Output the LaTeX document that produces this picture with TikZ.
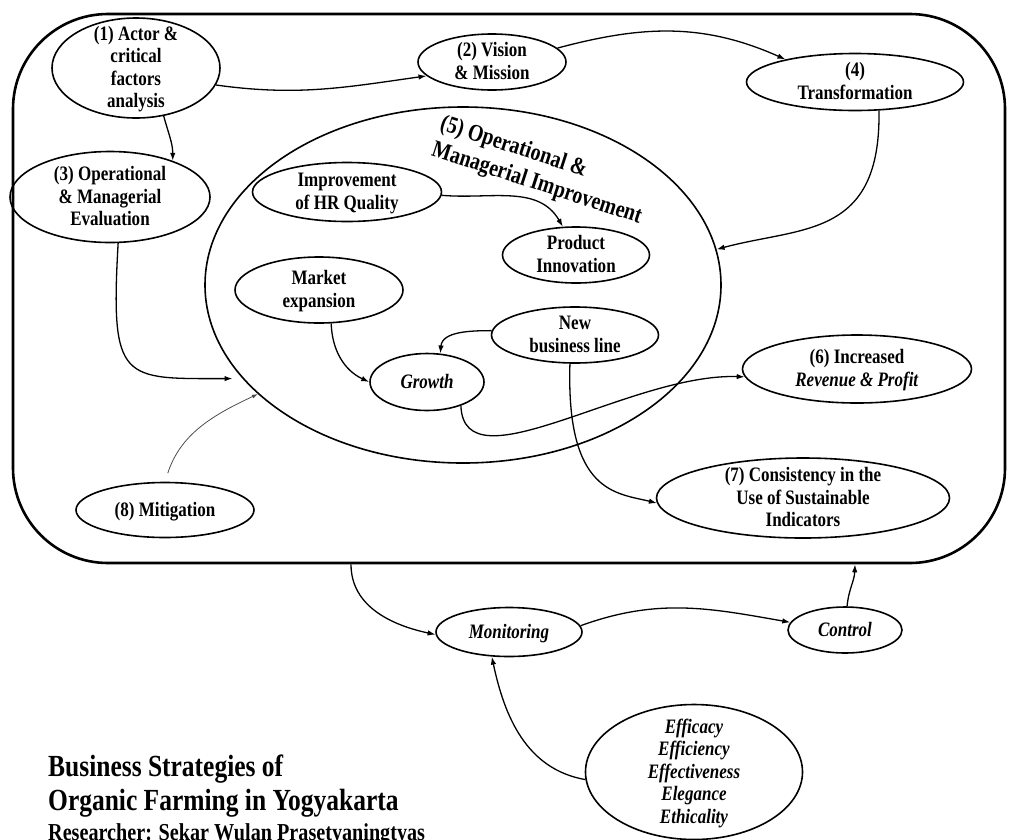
\documentclass[tikz,border=0pt]{standalone}
\usepackage{fontspec}
\setmainfont{Liberation Serif}[FakeStretch=0.83]
\usetikzlibrary{shapes.geometric,arrows.meta}
\newcommand{\ovaltext}[1]{\smash{\raisebox{\dimexpr(\depth-\height)/2-1.5pt\relax}{\begin{tabular}{@{}c@{}}#1\end{tabular}}}}

\begin{document}
\begin{tikzpicture}[x=1pt,y=1pt,
  >={Latex[length=8pt,width=5.5pt]},
  oval/.style={ellipse,draw,line width=1.6pt,inner sep=0pt,font=\fontsize{20.5}{22.5}\selectfont\bfseries},
  link/.style={->,line width=1.3pt}]
  \useasboundingbox (0,0) rectangle (1009,-839);
  \node[draw,line width=2.6pt,rounded corners=95pt,minimum width=992,minimum height=549] (frame) at (509,-288.5) {};
  \node[ellipse,draw,line width=1.6pt,minimum width=516,minimum height=356] (imp) at (463,-285) {};
  \node[rotate=-18,align=left,font=\fontsize{24}{27.5}\selectfont\bfseries] (imptitle) at (541,-171) {(5) Operational \&\\Managerial Improvement};
  \node[oval,minimum width=168,minimum height=100] (act) at (136,-68) {\ovaltext{(1) Actor \&\\critical\\factors\\analysis}};
  \node[oval,minimum width=148,minimum height=56] (vision) at (492,-62) {\ovaltext{(2) Vision\\\& Mission}};
  \node[oval,minimum width=217,minimum height=57] (trans) at (855,-82) {\ovaltext{(4)\\Transformation}};
  \node[oval,minimum width=200,minimum height=91] (eval) at (110,-197) {\ovaltext{(3) Operational\\\& Managerial\\Evaluation}};
  \node[oval,minimum width=189,minimum height=59] (hrq) at (347,-192) {\ovaltext{Improvement\\of HR Quality}};
  \node[oval,minimum width=147,minimum height=56] (prod) at (576,-255) {\ovaltext{Product\\Innovation}};
  \node[oval,minimum width=168,minimum height=66] (market) at (319,-290) {\ovaltext{Market\\expansion}};
  \node[oval,minimum width=167,minimum height=56] (newbiz) at (575,-335) {\ovaltext{New\\business line}};
  \node[oval,minimum width=114,minimum height=57] (growth) at (427,-382) {\ovaltext{\textit{Growth}}};
  \node[oval,minimum width=229,minimum height=68] (revenue) at (857,-369) {\ovaltext{(6) Increased\\\textit{Revenue \& Profit}}};
  \node[oval,minimum width=293,minimum height=80] (consist) at (803,-498) {\ovaltext{(7) Consistency in the\\Use of Sustainable\\Indicators}};
  \node[oval,minimum width=178,minimum height=55] (mitig) at (165,-510) {\ovaltext{(8) Mitigation}};
  \node[oval,minimum width=146,minimum height=49] (monit) at (509,-632) {\ovaltext{\textit{Monitoring}}};
  \node[oval,minimum width=114,minimum height=46] (control) at (845,-630) {\ovaltext{\textit{Control}}};
  \node[oval,minimum width=217,minimum height=135] (crit) at (694,-772) {\ovaltext{\textit{Efficacy}\\\textit{Efficiency}\\\textit{Effectiveness}\\\textit{Elegance}\\\textit{Ethicality}}};
  \node[anchor=base west,inner sep=0pt,font=\fontsize{30.7}{34}\selectfont\bfseries] (title) at (48,-776) {Business Strategies of};
  \node[anchor=base west,inner sep=0pt,font=\fontsize{30.7}{34}\selectfont\bfseries] (subtitle) at (48,-810) {Organic Farming in Yogyakarta};
  \node[anchor=base west,inner sep=0pt,font=\fontsize{24.3}{27}\selectfont\bfseries] (researcher) at (48,-840) {Researcher: Sekar Wulan Prasetyaningtyas};
  \draw[link] (act.-12) to[out=-8,in=188] (vision.192);
  \draw[link] (vision.12) to[out=15,in=156] (trans.162);
  \draw[link] (act.-60) to[out=-75,in=90] (eval.30);
  \draw[link,shorten >=10pt] (eval.-80) .. controls +(-8,-140) and +(-120,0) .. (imp.203);
  \draw[-{Latex[length=6pt,width=4pt]},line width=0.8pt,black!70,shorten <=9pt] (mitig.90) to[out=72,in=205] (imp.208);
  \draw[link] (trans.-50) .. controls +(2,-128) and +(85,23) .. (imp.8);
  \draw[link] (hrq.-2) to[out=-5,in=120] (prod.115);
  \draw[link] (market.-70) to[out=-88,in=155] (growth.180);
  \draw[link] (newbiz.177) to[out=180,in=85] (growth.65);
  \draw[link] (growth.-35) .. controls +(3,-83) and +(-114,4) .. (revenue.184);
  \draw[link] (newbiz.-100) .. controls +(-4,-130) and +(-40,10) .. (consist.182);
  \draw[link] ([xshift=-158pt]frame.south) to[out=-90,in=168] (monit.182);
  \draw[link] (monit.5) to[out=20,in=170] (control.172);
  \draw[link] (control.85) to[out=85,in=-92] ([xshift=346pt]frame.south);
  \draw[link] (crit.184) to[out=170,in=-78] (monit.-125);
\end{tikzpicture}
\end{document}
